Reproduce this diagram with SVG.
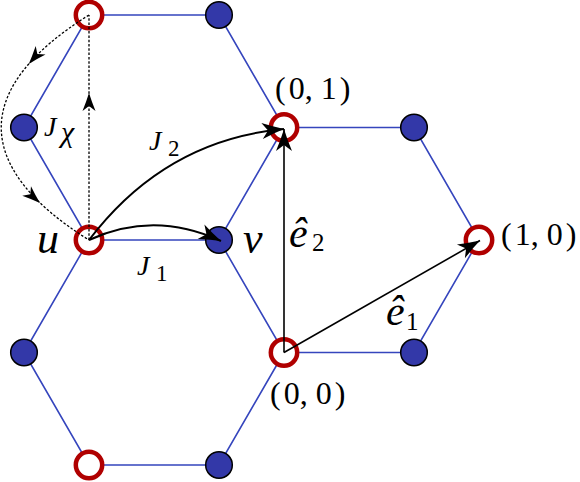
<svg xmlns="http://www.w3.org/2000/svg" width="580" height="482" viewBox="0 0 580 482">
<style>
.edge{stroke:#3545bd;stroke-width:1.6;fill:none}
.A{fill:#fff;stroke:#b00000;stroke-width:4.5}
.B{fill:#3338a8;stroke:#000;stroke-width:1.5}
.arrow{stroke:#000;stroke-width:2;fill:none}
.dash{stroke:#000;stroke-width:1.3;fill:none;stroke-dasharray:2.5 1.8}
text{font-family:"Liberation Serif","Times New Roman",serif;fill:#000}
.it{font-style:italic}
</style>
<defs>
<marker id="arr" viewBox="-23 -9 24 18" markerWidth="24" markerHeight="18" refX="0" refY="0" orient="auto" markerUnits="userSpaceOnUse">
<path d="M0,0 Q-10,-3 -22,-8 L-16,0 L-22,8 Q-10,3 0,0 Z" fill="#000"/>
</marker>
<path id="sah" d="M0,0 Q-8,-2.5 -18,-6.5 L-13,0 L-18,6.5 Q-8,2.5 0,0 Z" fill="#000"/>
</defs>
<g id="edges">
<path class="edge" d="M89,15 L219,15 L284,127.5 L219,240 L89,240 L24,127.5 Z"/>
<path class="edge" d="M284,127.5 L414,127.5 L479,240 L414,352.5 L284,352.5 L219,240"/>
<path class="edge" d="M89,240 L24,352.5 L89,465 L219,465 L284,352.5"/>
</g>
<g id="nodes">
<g id="a1"><circle class="A" cx="89" cy="15" r="13.2"/></g>
<g id="b1"><circle class="B" cx="219" cy="15" r="13.3"/></g>
<g id="b2"><circle class="B" cx="24" cy="127.5" r="13.3"/></g>
<g id="a01"><circle class="A" cx="284" cy="127.5" r="13.2"/></g>
<g id="b3"><circle class="B" cx="414" cy="127.5" r="13.3"/></g>
<g id="u"><circle class="A" cx="89" cy="240" r="13.2"/></g>
<g id="v"><circle class="B" cx="219" cy="240" r="13.3"/></g>
<g id="a10"><circle class="A" cx="479" cy="240" r="13.2"/></g>
<g id="b4"><circle class="B" cx="24" cy="352.5" r="13.3"/></g>
<g id="a00"><circle class="A" cx="284" cy="352.5" r="13.2"/></g>
<g id="b5"><circle class="B" cx="414" cy="352.5" r="13.3"/></g>
<g id="a2"><circle class="A" cx="89" cy="465" r="13.2"/></g>
<g id="b6"><circle class="B" cx="219" cy="465" r="13.3"/></g>
</g>
<g id="connectors">
<path class="dash" d="M89,240 L89,15"/>
<use href="#sah" transform="translate(89,93) rotate(-90)"/>
<path class="dash" d="M89,15 C-28,88 -28,167 89,240"/>
<use href="#sah" transform="translate(28.8,63.9) rotate(131)"/>
<use href="#sah" transform="translate(40,203) rotate(42)"/>
<path class="arrow" d="M89,240 Q154,210 221,241" marker-end="url(#arr)"/>
<path class="arrow" d="M89,240 Q165,140 284,129" marker-end="url(#arr)"/>
<path class="arrow" style="stroke-width:1.6" d="M284,352.5 L284,129" marker-end="url(#arr)"/>
<path class="arrow" style="stroke-width:1.6" d="M284,352.5 L480,240.5" marker-end="url(#arr)"/>
</g>
<g id="labels">
<text x="275" y="99" font-size="32">(<tspan dx="3">0,</tspan><tspan dx="8">1</tspan><tspan dx="3">)</tspan></text>
<text x="501" y="245" font-size="32">(<tspan dx="3">1,</tspan><tspan dx="8">0</tspan><tspan dx="3">)</tspan></text>
<text x="270" y="404" font-size="32">(<tspan dx="3">0,</tspan><tspan dx="8">0</tspan><tspan dx="3">)</tspan></text>
<text x="37" y="253" font-size="44" class="it">u</text>
<text x="243" y="253" font-size="44" class="it">v</text>
<text x="137" y="275" font-size="28" class="it">J</text>
<text x="156" y="281" font-size="23">1</text>
<text x="149" y="150" font-size="28" class="it">J</text>
<text x="168" y="156" font-size="23">2</text>
<text x="44" y="136" font-size="28" class="it">J</text>
<text x="61" y="142" font-size="30" class="it">χ</text>
<text x="289" y="247" font-size="42" class="it">ê</text>
<text x="312" y="251" font-size="25">2</text>
<text x="386" y="325" font-size="42" class="it">ê</text>
<text x="406" y="330" font-size="25">1</text>
</g>
</svg>
